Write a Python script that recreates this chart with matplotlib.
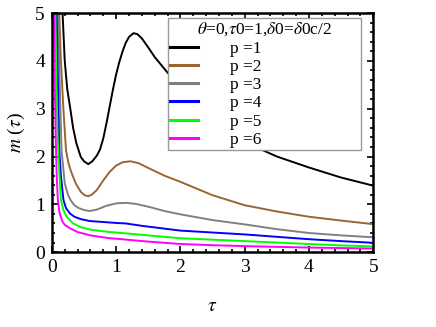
import numpy as np
import matplotlib
matplotlib.use("Agg")
import matplotlib.pyplot as plt
from matplotlib.ticker import MultipleLocator

plt.rcParams['font.family'] = ['Liberation Serif', 'DejaVu Serif']
plt.rcParams['mathtext.fontset'] = 'stix'

# values: (tau, m) for each p
t1 = [0.166, 0.2, 0.24, 0.29, 0.33, 0.38, 0.45, 0.5, 0.566, 0.63, 0.7, 0.75, 0.8, 0.85, 0.9,
      0.95, 1.0, 1.05, 1.1, 1.15, 1.2, 1.27, 1.33, 1.4, 1.5, 1.6, 1.79, 2.0, 2.5, 3.0, 3.5,
      4.0, 4.5, 5.0]
m1 = [5.0, 4.0, 3.4, 2.97, 2.6, 2.28, 1.99, 1.9, 1.84, 1.9, 2.02, 2.15, 2.38, 2.7, 3.05,
      3.4, 3.72, 3.98, 4.2, 4.38, 4.5, 4.58, 4.56, 4.47, 4.28, 4.08, 3.77, 3.45, 2.75, 2.3, 2.0,
      1.77, 1.56, 1.39]
t2 = [0.115, 0.14, 0.18, 0.22, 0.26, 0.3, 0.37, 0.45, 0.51, 0.566, 0.62, 0.7, 0.8, 0.9, 1.0,
      1.1, 1.225, 1.35, 1.5, 1.75, 2.0, 2.5, 3.0, 3.5, 4.0, 4.5, 5.0]
m2 = [5.0, 4.0, 2.97, 2.13, 1.85, 1.68, 1.44, 1.26, 1.19, 1.17, 1.2, 1.3, 1.5, 1.68, 1.81,
      1.88, 1.9, 1.86, 1.76, 1.6, 1.47, 1.19, 0.98, 0.85, 0.74, 0.66, 0.585]
t3 = [0.1, 0.12, 0.15, 0.2, 0.25, 0.29, 0.35, 0.42, 0.5, 0.59, 0.7, 0.85, 1.0, 1.15, 1.3,
      1.5, 1.75, 2.0, 2.5, 3.0, 3.5, 4.0, 4.5, 5.0]
m3 = [5.0, 3.6, 2.13, 1.44, 1.2, 1.09, 0.98, 0.92, 0.88, 0.86, 0.89, 0.97, 1.02, 1.03, 1.01,
      0.95, 0.86, 0.79, 0.67, 0.58, 0.48, 0.40, 0.35, 0.31]
t4 = [0.075, 0.09, 0.115, 0.14, 0.18, 0.22, 0.28, 0.35, 0.45, 0.59, 0.8, 1.0, 1.15, 1.4,
      1.7, 2.0, 2.5, 3.0, 3.5, 4.0, 4.5, 5.0]
m4 = [5.0, 3.8, 2.13, 1.6, 1.09, 0.92, 0.81, 0.74, 0.69, 0.65, 0.63, 0.61, 0.6, 0.55,
      0.5, 0.45, 0.41, 0.37, 0.32, 0.27, 0.23, 0.195]
t5 = [0.055, 0.07, 0.09, 0.11, 0.14, 0.18, 0.23, 0.33, 0.45, 0.6, 0.9, 1.0, 1.5, 2.0, 2.5,
      3.0, 3.5, 4.0, 4.5, 5.0]
m5 = [5.0, 3.5, 2.4, 1.8, 1.09, 0.88, 0.74, 0.6, 0.52, 0.47, 0.42, 0.41, 0.35, 0.29, 0.26,
      0.23, 0.2, 0.17, 0.14, 0.12]
t6 = [0.035, 0.045, 0.06, 0.075, 0.093, 0.12, 0.16, 0.2, 0.28, 0.4, 0.6, 0.9, 1.0, 1.5,
      2.0, 2.5, 3.0, 3.5, 4.0, 4.5, 5.0]
m6 = [5.0, 3.5, 2.4, 1.6, 1.09, 0.82, 0.65, 0.57, 0.5, 0.42, 0.35, 0.29, 0.28, 0.22,
      0.17, 0.145, 0.125, 0.11, 0.095, 0.085, 0.075]

labels = ['p =1', 'p =2', 'p =3', 'p =4', 'p =5', 'p =6']
colors = ['black', (0.6, 0.4, 0.2), (0.5, 0.5, 0.5), (0, 0, 1), (0, 1, 0), (1, 0, 1)]

fig = plt.figure(figsize=(4.36, 3.27), dpi=100)
ax = fig.add_axes([0.119, 0.229, 0.737, 0.731])

for t, m, c, l in zip([t1, t2, t3, t4, t5, t6], [m1, m2, m3, m4, m5, m6], colors, labels):
    ax.plot(t, m, color=c, lw=1.4, label=l, solid_joinstyle='round')

ax.set_xlim(0, 5)
ax.set_ylim(0, 5)
ax.xaxis.set_major_locator(MultipleLocator(1))
ax.yaxis.set_major_locator(MultipleLocator(1))
ax.xaxis.set_minor_locator(MultipleLocator(0.2))
ax.yaxis.set_minor_locator(MultipleLocator(0.2))
ax.tick_params(which='both', direction='in', top=True, right=True, width=1.2)
ax.tick_params(which='major', length=4, labelsize=14, pad=5)
ax.tick_params(which='minor', length=2.5)
for s in ax.spines.values():
    s.set_linewidth(1.8)

ax.set_xlabel(r'$\tau$', fontsize=14, labelpad=16)
ax.set_ylabel(r'$m$ ($\tau$)', fontsize=14, labelpad=6)

leg = ax.legend(title=r'$\theta$=0,$\tau$0=1,$\delta$0=$\delta$0c/2', loc='upper left',
                bbox_to_anchor=(0.361, 0.444, 0.602, 0.535), mode='expand',
                fontsize=12.5, title_fontsize=12.5,
                handlelength=1.6, handletextpad=1.8, labelspacing=0.12,
                borderpad=0.15, borderaxespad=0, fancybox=False, framealpha=1,
                edgecolor='#999999')
leg.get_frame().set_linewidth(1.0)
for ln in leg.get_lines():
    ln.set_linewidth(2.2)

fig.savefig('out.png', dpi=100)
